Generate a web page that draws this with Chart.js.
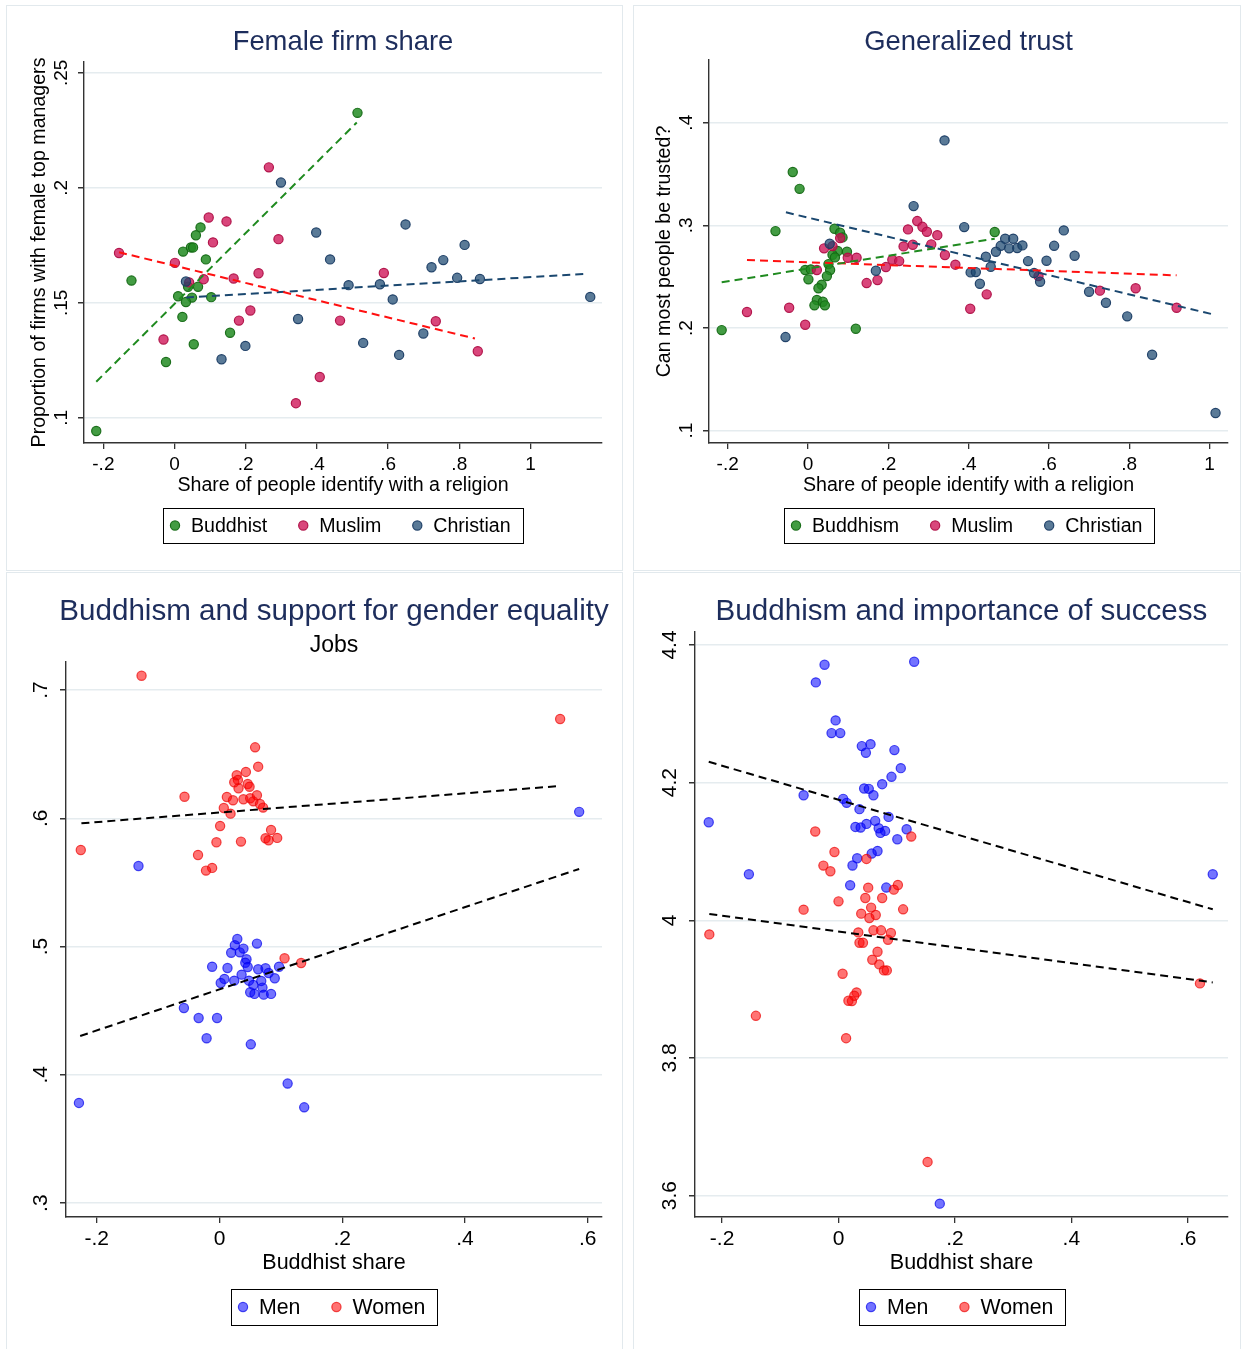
<!DOCTYPE html>
<html>
<head>
<meta charset="utf-8">
<script src="https://cdn.jsdelivr.net/npm/chart.js@4.4.1/dist/chart.umd.min.js"></script>
<style>
  body { margin: 0; background: #fff; width: 1245px; height: 1349px; position: relative; overflow: hidden; }
  .panel { position: absolute; outline: 1px solid #e2e9ed; }
</style>
</head>
<body>
<div class="panel" style="left:7px;top:6px;width:615px;height:564px"><canvas id="firmChart"></canvas></div>
<div class="panel" style="left:634px;top:6px;width:606px;height:564px"><canvas id="trustChart"></canvas></div>
<div class="panel" style="left:7px;top:573px;width:615px;height:776px"><canvas id="jobsChart"></canvas></div>
<div class="panel" style="left:634px;top:573px;width:606px;height:776px"><canvas id="successChart"></canvas></div>
<script>
// ---------- dados: Female firm share ----------
const firmSeries = ['Buddhist', 'Muslim', 'Christian'];
const firmXTicks = [-0.2, 0, 0.2, 0.4, 0.6, 0.8, 1];
const firmYTicks = [0.1, 0.15, 0.2, 0.25];
const firmBuddhistX = [0.514, -0.121, 0.073, 0.060, 0.024, 0.046, 0.052, 0.088, 0.038, 0.066, 0.010, 0.049, 0.032, 0.103, 0.022, 0.156, 0.054, -0.024, -0.220];
const firmBuddhistY = [0.2326, 0.1597, 0.1828, 0.1794, 0.1723, 0.1741, 0.1741, 0.1689, 0.157, 0.157, 0.1529, 0.1523, 0.1504, 0.1525, 0.1439, 0.137, 0.132, 0.1243, 0.0943];
const firmMuslimX = [0.265, 0.096, 0.146, 0.108, 0.292, -0.156, 0.001, 0.236, 0.166, 0.082, 0.041, 0.213, 0.181, 0.465, -0.031, 0.408, 0.341, 0.588, 0.734, 0.852];
const firmMuslimY = [0.2089, 0.1871, 0.1854, 0.1763, 0.1777, 0.1717, 0.1674, 0.1629, 0.1606, 0.1603, 0.1589, 0.1467, 0.1423, 0.1423, 0.1341, 0.1178, 0.1064, 0.1630, 0.142, 0.129];
const firmChristianX = [0.299, 0.398, 0.437, 0.489, 0.032, 0.347, 0.199, 0.132, 0.530, 0.649, 0.815, 0.722, 0.755, 0.794, 0.858, 0.577, 0.613, 1.168, 0.699, 0.631];
const firmChristianY = [0.2023, 0.1806, 0.1689, 0.1577, 0.1593, 0.143, 0.1313, 0.1255, 0.1326, 0.1841, 0.1752, 0.1655, 0.1686, 0.1609, 0.1604, 0.1581, 0.1515, 0.1526, 0.1367, 0.1274];
const firmBuddhistFitX = [-0.220, 0.512];
const firmBuddhistFitY = [0.1157, 0.2284];
const firmMuslimFitX = [-0.156, 0.844];
const firmMuslimFitY = [0.172, 0.1345];
const firmChristianFitX = [0.032, 1.155];
const firmChristianFitY = [0.1523, 0.1626];

// ---------- dados: Generalized trust ----------
const trustSeries = ['Buddhism', 'Muslim', 'Christian'];
const trustXTicks = [-0.2, 0, 0.2, 0.4, 0.6, 0.8, 1];
const trustYTicks = [0.1, 0.2, 0.3, 0.4];
const trustBuddhismX = [-0.038, -0.021, -0.081, -0.215, 0.119, 0.066, 0.080, 0.086, 0.074, 0.097, 0.061, 0.067, 0.051, 0.055, -0.007, 0.007, 0.001, 0.047, 0.034, 0.026, 0.022, 0.016, 0.037, 0.042, 0.465];
const trustBuddhismY = [0.352, 0.3356, 0.2944, 0.198, 0.1993, 0.2967, 0.2928, 0.2883, 0.275, 0.2743, 0.2714, 0.2688, 0.2623, 0.2565, 0.2565, 0.2571, 0.2474, 0.2506, 0.2422, 0.2387, 0.2273, 0.2221, 0.2256, 0.2221, 0.2935];
const trustMuslimX = [-0.152, -0.047, -0.007, 0.022, 0.040, 0.061, 0.080, 0.099, 0.121, 0.146, 0.173, 0.194, 0.210, 0.227, 0.238, 0.261, 0.249, 0.272, 0.285, 0.296, 0.322, 0.307, 0.341, 0.367, 0.404, 0.445, 0.574, 0.727, 0.816, 0.918];
const trustMuslimY = [0.2156, 0.2198, 0.2032, 0.2565, 0.2776, 0.2798, 0.2876, 0.2685, 0.2685, 0.2438, 0.2467, 0.2594, 0.2665, 0.2652, 0.2795, 0.2811, 0.2961, 0.3042, 0.2986, 0.2938, 0.2905, 0.2815, 0.2711, 0.2617, 0.2188, 0.2328, 0.2506, 0.2364, 0.2387, 0.2198];
const trustChristianX = [0.340, 0.263, 0.389, 0.054, 0.169, -0.056, 0.405, 0.418, 0.428, 0.491, 0.511, 0.480, 0.501, 0.521, 0.534, 0.468, 0.443, 0.455, 0.548, 0.563, 0.578, 0.594, 0.613, 0.637, 0.664, 0.700, 0.742, 0.795, 0.857, 1.015];
const trustChristianY = [0.3828, 0.3188, 0.2983, 0.2821, 0.2558, 0.1912, 0.2542, 0.2545, 0.2431, 0.287, 0.287, 0.2801, 0.2776, 0.2779, 0.2805, 0.2743, 0.2694, 0.2597, 0.2652, 0.2536, 0.2451, 0.2655, 0.2801, 0.2951, 0.2704, 0.2353, 0.2246, 0.2114, 0.174, 0.1172];
const trustBuddhismFitX = [-0.215, 0.465];
const trustBuddhismFitY = [0.2445, 0.287];
const trustMuslimFitX = [-0.152, 0.918];
const trustMuslimFitY = [0.2662, 0.2513];
const trustChristianFitX = [-0.055, 1.015];
const trustChristianFitY = [0.3127, 0.2127];

// ---------- dados: Buddhism and support for gender equality (Jobs) ----------
const genderSeries = ['Men', 'Women'];
const jobsXTicks = [-0.2, 0, 0.2, 0.4, 0.6];
const jobsYTicks = [0.3, 0.4, 0.5, 0.6, 0.7];
const jobsMenX = [-0.132, 0.586, -0.229, 0.029, 0.061, 0.025, 0.039, 0.019, 0.033, 0.044, 0.042, -0.012, 0.013, 0.046, 0.063, 0.075, 0.080, 0.097, 0.036, 0.008, 0.002, 0.024, 0.048, 0.055, 0.068, 0.090, 0.070, 0.050, 0.057, 0.072, 0.084, -0.058, -0.034, -0.004, -0.021, 0.051, 0.111, 0.138];
const jobsMenY = [0.5628, 0.605, 0.3781, 0.5059, 0.5023, 0.501, 0.4984, 0.4952, 0.4955, 0.4901, 0.4874, 0.4843, 0.4833, 0.4841, 0.4823, 0.4831, 0.4794, 0.4843, 0.4781, 0.4748, 0.4716, 0.4734, 0.4734, 0.4701, 0.4732, 0.4753, 0.468, 0.4644, 0.4631, 0.4625, 0.4631, 0.4521, 0.4443, 0.4443, 0.4285, 0.4238, 0.3932, 0.3747];
const jobsWomenX = [-0.127, 0.058, 0.063, 0.043, 0.028, 0.030, 0.024, 0.046, 0.049, 0.031, -0.057, 0.012, 0.022, 0.039, 0.050, 0.061, 0.055, 0.066, 0.071, 0.007, 0.018, 0.001, 0.084, 0.075, 0.080, 0.094, 0.035, -0.005, -0.226, -0.035, -0.012, -0.022, 0.555, 0.106, 0.133];
const jobsWomenY = [0.7111, 0.6553, 0.6402, 0.6361, 0.6335, 0.6299, 0.6281, 0.6267, 0.6246, 0.6234, 0.6168, 0.6166, 0.614, 0.6148, 0.6156, 0.6179, 0.6132, 0.6111, 0.6083, 0.608, 0.6036, 0.594, 0.5909, 0.5844, 0.5829, 0.5847, 0.5818, 0.5813, 0.5753, 0.5714, 0.5613, 0.5592, 0.6774, 0.4909, 0.4872];
const jobsMenFitX = [-0.227, 0.586];
const jobsMenFitY = [0.4303, 0.5605];
const jobsWomenFitX = [-0.225, 0.555];
const jobsWomenFitY = [0.5961, 0.6252];

// ---------- dados: Buddhism and importance of success ----------
const succXTicks = [-0.2, 0, 0.2, 0.4, 0.6];
const succYTicks = [3.6, 3.8, 4, 4.2, 4.4];
const succMenX = [-0.024, 0.130, -0.039, -0.005, -0.012, 0.003, 0.040, 0.055, 0.047, 0.096, 0.107, 0.091, 0.075, 0.044, 0.052, 0.060, -0.060, 0.008, 0.014, 0.036, 0.086, 0.063, 0.048, 0.029, 0.038, 0.069, 0.080, 0.072, 0.117, 0.101, -0.223, 0.067, 0.057, 0.032, 0.024, -0.154, 0.020, 0.082, 0.643, 0.174];
const succMenY = [4.3713, 4.3757, 4.3457, 4.2905, 4.272, 4.272, 4.2531, 4.256, 4.2434, 4.2473, 4.2211, 4.2085, 4.1978, 4.1916, 4.191, 4.1818, 4.1818, 4.1765, 4.1707, 4.1615, 4.1503, 4.1445, 4.1401, 4.1357, 4.1348, 4.1338, 4.1299, 4.127, 4.1324, 4.1178, 4.1425, 4.1008, 4.097, 4.0902, 4.0796, 4.0669, 4.0509, 4.0476, 4.0669, 3.5884];
const succWomenX = [-0.040, 0.125, -0.007, 0.048, -0.026, -0.014, 0.051, 0.102, 0.095, 0.046, 0.075, 0.000, -0.060, 0.111, 0.056, 0.039, 0.064, 0.053, -0.222, 0.034, 0.060, 0.073, 0.090, 0.085, 0.036, 0.042, 0.067, 0.058, 0.070, 0.078, 0.083, 0.007, 0.031, 0.027, 0.023, 0.017, -0.142, 0.013, 0.153, 0.621];
const succWomenY = [4.129, 4.1217, 4.0993, 4.0892, 4.0795, 4.0713, 4.0475, 4.0514, 4.0446, 4.0325, 4.0325, 4.0276, 4.0155, 4.016, 4.0185, 4.0097, 4.0078, 4.0034, 3.9796, 3.9825, 3.9855, 3.9855, 3.9816, 3.9718, 3.9675, 3.9675, 3.9544, 3.9428, 3.936, 3.9273, 3.9273, 3.9224, 3.8953, 3.8904, 3.8827, 3.8831, 3.8613, 3.8288, 3.649, 3.9084];
const succMenFitX = [-0.223, 0.643];
const succMenFitY = [4.2303, 4.016];
const succWomenFitX = [-0.222, 0.643];
const succWomenFitY = [4.0092, 3.9098];

// ---------- estilos ----------
const FONT = '"Liberation Sans", Arial, Helvetica, sans-serif';
const TITLE_COLOR = '#1d2d5c';
const GREEN = { fill: 'rgba(34,139,34,0.85)', stroke: 'rgba(20,105,20,0.95)', line: '#1f8a1f' };
const CRANBERRY = { fill: 'rgba(206,18,86,0.78)', stroke: 'rgba(175,15,70,0.95)', line: '#ff1010' };
const NAVY = { fill: 'rgba(26,71,111,0.72)', stroke: 'rgba(26,60,100,0.95)', line: '#1a476f' };
const BLUE = { fill: 'rgba(0,0,255,0.55)', stroke: 'rgba(0,0,235,0.7)', line: '#000' };
const RED = { fill: 'rgba(255,0,0,0.55)', stroke: 'rgba(235,0,0,0.7)', line: '#000' };

// Formato de rótulo estilo Stata: 0.2 -> .2
function fmtTick(v) {
    return String(v).replace(/^(-?)0\./, '$1.');
}

function xy(xs, ys) {
    return xs.map((x, i) => ({ x: x, y: ys[i] }));
}

// Plugin para títulos, rótulos do eixo y girados e legenda com caixa
const panelTextPlugin = {
    id: 'panelText',
    afterDraw(chart, args, o) {
        const ctx = chart.ctx;
        const area = chart.chartArea;
        const cx = (area.left + area.right) / 2;
        const ox = o.origin[0];
        const oy = o.origin[1];
        ctx.save();
        ctx.textAlign = 'center';
        ctx.textBaseline = 'middle';

        // título
        ctx.fillStyle = TITLE_COLOR;
        ctx.font = o.titleSize + 'px ' + FONT;
        ctx.fillText(o.title, cx, o.titleY - oy);
        if (o.subtitle) {
            ctx.fillStyle = '#000';
            ctx.font = o.subtitleSize + 'px ' + FONT;
            ctx.fillText(o.subtitle, cx, o.subtitleY - oy);
        }

        // rótulos do eixo y (verticais)
        ctx.fillStyle = '#000';
        ctx.font = o.tickSize + 'px ' + FONT;
        o.yTicks.forEach(v => {
            const py = chart.scales.y.getPixelForValue(v);
            ctx.save();
            ctx.translate(o.yTickX - ox, py);
            ctx.rotate(-Math.PI / 2);
            ctx.fillText(fmtTick(v), 0, 0);
            ctx.restore();
        });

        // títulos dos eixos
        ctx.font = o.axisSize + 'px ' + FONT;
        ctx.fillText(o.xTitle, cx, o.xTitleY - oy);
        if (o.yTitle) {
            ctx.save();
            ctx.translate(o.yTitleX - ox, (area.top + area.bottom) / 2);
            ctx.rotate(-Math.PI / 2);
            ctx.fillText(o.yTitle, 0, 0);
            ctx.restore();
        }

        // legenda
        ctx.font = o.legendSize + 'px ' + FONT;
        const widths = o.legend.map(it => ctx.measureText(it.label).width);
        const gapText = 16;
        const gapItem = 36;
        const itemsW = widths.reduce((a, w) => a + gapText + w, 0) + gapItem * (o.legend.length - 1);
        const boxW = Math.round(itemsW + 24);
        const bx = Math.round(cx - boxW / 2);
        const by = o.legendTop - oy;
        const bh = o.legendBottom - o.legendTop;
        ctx.strokeStyle = '#000';
        ctx.lineWidth = 1;
        ctx.strokeRect(bx + 0.5, by + 0.5, boxW, bh);
        let x = bx + 12;
        const my = by + bh / 2;
        o.legend.forEach((it, i) => {
            ctx.beginPath();
            ctx.arc(x, my, 4.6, 0, 2 * Math.PI);
            ctx.fillStyle = it.fill;
            ctx.fill();
            ctx.strokeStyle = it.stroke;
            ctx.lineWidth = 1.2;
            ctx.stroke();
            ctx.fillStyle = '#000';
            ctx.textAlign = 'left';
            ctx.fillText(it.label, x + gapText, my + 1);
            x += gapText + widths[i] + gapItem;
        });
        ctx.restore();
    }
};

function buildPanel(canvasId, p) {
    const datasets = [];
    p.fits.forEach(f => {
        datasets.push({
            type: 'line',
            data: xy(f.x, f.y),
            borderColor: f.color,
            borderWidth: 2,
            borderDash: [8, 5],
            pointRadius: 0,
            fill: false,
            order: 0
        });
    });
    p.series.forEach((s, i) => {
        datasets.push({
            type: 'scatter',
            label: s.name,
            data: xy(s.x, s.y),
            backgroundColor: s.style.fill,
            borderColor: s.style.stroke,
            borderWidth: 1.2,
            pointRadius: 4.6,
            order: 10 - i
        });
    });

    return new Chart(document.getElementById(canvasId), {
        type: 'scatter',
        data: { datasets: datasets },
        plugins: [panelTextPlugin],
        options: {
            responsive: true,
            maintainAspectRatio: false,
            animation: false,
            events: [],
            layout: { padding: { top: p.padTop, right: p.padRight, left: 0, bottom: 0 } },
            scales: {
                x: {
                    type: 'linear',
                    min: p.xRange[0],
                    max: p.xRange[1],
                    afterBuildTicks: s => { s.ticks = p.xTicks.map(v => ({ value: v })); },
                    afterFit: s => { s.height = p.xAxisH; },
                    grid: { drawOnChartArea: false, tickLength: 6, tickColor: '#333', lineWidth: 1.3 },
                    border: { color: '#333', width: 1.4 },
                    ticks: {
                        color: '#000',
                        padding: 4,
                        maxRotation: 0,
                        autoSkip: false,
                        font: { family: FONT, size: p.text.tickSize },
                        callback: v => fmtTick(v)
                    }
                },
                y: {
                    type: 'linear',
                    min: p.yRange[0],
                    max: p.yRange[1],
                    afterBuildTicks: s => { s.ticks = p.yTicks.map(v => ({ value: v })); },
                    afterFit: s => { s.width = p.yAxisW; },
                    grid: { color: '#e5ecef', lineWidth: 1.5, tickColor: '#333', tickLength: 6 },
                    border: { color: '#333', width: 1.4 },
                    ticks: { display: false }
                }
            },
            plugins: {
                legend: { display: false },
                title: { display: false },
                tooltip: { enabled: false },
                panelText: Object.assign({ yTicks: p.yTicks }, p.text)
            }
        }
    });
}

// Painel 1
buildPanel('firmChart', {
    xRange: [-0.2544, 1.201], yRange: [0.0891, 0.2547],
    xTicks: firmXTicks, yTicks: firmYTicks,
    padTop: 56, padRight: 20, yAxisW: 77, xAxisH: 127,
    series: [
        { name: firmSeries[0], x: firmBuddhistX, y: firmBuddhistY, style: GREEN },
        { name: firmSeries[1], x: firmMuslimX, y: firmMuslimY, style: CRANBERRY },
        { name: firmSeries[2], x: firmChristianX, y: firmChristianY, style: NAVY }
    ],
    fits: [
        { x: firmBuddhistFitX, y: firmBuddhistFitY, color: GREEN.line },
        { x: firmMuslimFitX, y: firmMuslimFitY, color: CRANBERRY.line },
        { x: firmChristianFitX, y: firmChristianFitY, color: NAVY.line }
    ],
    text: {
        origin: [7, 6], title: 'Female firm share', titleY: 42, titleSize: 27.4,
        tickSize: 19, yTickX: 62, axisSize: 19.6,
        xTitle: 'Share of people identify with a religion', xTitleY: 486,
        yTitle: 'Proportion of firms with female top managers', yTitleX: 40,
        legendSize: 19.6, legendTop: 508, legendBottom: 543,
        legend: firmSeries.map((n, i) => Object.assign({ label: n }, [GREEN, CRANBERRY, NAVY][i]))
    }
});

// Painel 2
buildPanel('trustChart', {
    xRange: [-0.2466, 1.046], yRange: [0.088, 0.4611],
    xTicks: trustXTicks, yTicks: trustYTicks,
    padTop: 54, padRight: 12, yAxisW: 75, xAxisH: 127,
    series: [
        { name: trustSeries[0], x: trustBuddhismX, y: trustBuddhismY, style: GREEN },
        { name: trustSeries[1], x: trustMuslimX, y: trustMuslimY, style: CRANBERRY },
        { name: trustSeries[2], x: trustChristianX, y: trustChristianY, style: NAVY }
    ],
    fits: [
        { x: trustBuddhismFitX, y: trustBuddhismFitY, color: GREEN.line },
        { x: trustMuslimFitX, y: trustMuslimFitY, color: CRANBERRY.line },
        { x: trustChristianFitX, y: trustChristianFitY, color: NAVY.line }
    ],
    text: {
        origin: [634, 6], title: 'Generalized trust', titleY: 42, titleSize: 27.4,
        tickSize: 19, yTickX: 687, axisSize: 19.6,
        xTitle: 'Share of people identify with a religion', xTitleY: 486,
        yTitle: 'Can most people be trusted?', yTitleX: 665,
        legendSize: 19.6, legendTop: 508, legendBottom: 543,
        legend: trustSeries.map((n, i) => Object.assign({ label: n }, [GREEN, CRANBERRY, NAVY][i]))
    }
});

// Painel 3
buildPanel('jobsChart', {
    xRange: [-0.2501, 0.6232], yRange: [0.2892, 0.7218],
    xTicks: jobsXTicks, yTicks: jobsYTicks,
    padTop: 89, padRight: 20, yAxisW: 59, xAxisH: 132,
    series: [
        { name: genderSeries[0], x: jobsMenX, y: jobsMenY, style: BLUE },
        { name: genderSeries[1], x: jobsWomenX, y: jobsWomenY, style: RED }
    ],
    fits: [
        { x: jobsMenFitX, y: jobsMenFitY, color: '#000' },
        { x: jobsWomenFitX, y: jobsWomenFitY, color: '#000' }
    ],
    text: {
        origin: [7, 573], title: 'Buddhism and support for gender equality', titleY: 612, titleSize: 29.6,
        subtitle: 'Jobs', subtitleY: 646, subtitleSize: 23,
        tickSize: 21, yTickX: 41, axisSize: 21.5,
        xTitle: 'Buddhist share', xTitleY: 1263,
        legendSize: 21.3, legendTop: 1289, legendBottom: 1325,
        legend: genderSeries.map((n, i) => Object.assign({ label: n }, [BLUE, RED][i]))
    }
});

// Painel 4
buildPanel('successChart', {
    xRange: [-0.2466, 0.6692], yRange: [3.569, 4.4189],
    xTicks: succXTicks, yTicks: succYTicks,
    padTop: 59, padRight: 12, yAxisW: 61, xAxisH: 132,
    series: [
        { name: genderSeries[0], x: succMenX, y: succMenY, style: BLUE },
        { name: genderSeries[1], x: succWomenX, y: succWomenY, style: RED }
    ],
    fits: [
        { x: succMenFitX, y: succMenFitY, color: '#000' },
        { x: succWomenFitX, y: succWomenFitY, color: '#000' }
    ],
    text: {
        origin: [634, 573], title: 'Buddhism and importance of success', titleY: 612, titleSize: 29.6,
        tickSize: 21, yTickX: 670, axisSize: 21.5,
        xTitle: 'Buddhist share', xTitleY: 1263,
        legendSize: 21.3, legendTop: 1289, legendBottom: 1325,
        legend: genderSeries.map((n, i) => Object.assign({ label: n }, [BLUE, RED][i]))
    }
});
</script>
</body>
</html>
